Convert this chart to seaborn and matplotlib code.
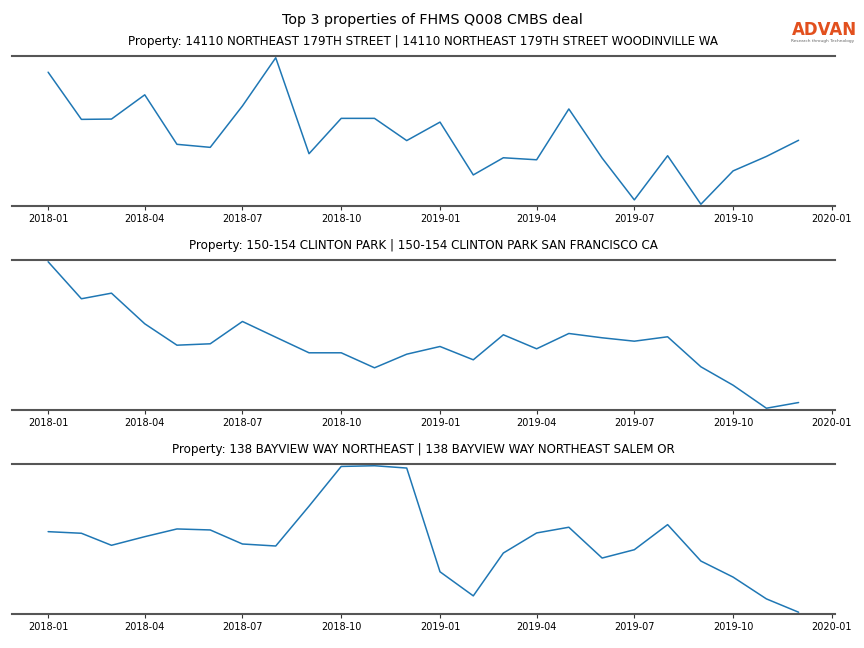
import matplotlib
matplotlib.use("Agg")
import matplotlib.pyplot as plt
import matplotlib.dates as mdates
import pandas as pd
import seaborn as sns

# Monthly values (relative units)
months = pd.date_range("2018-01-01", periods=24, freq="MS")

titles = [
    "Property: 14110 NORTHEAST 179TH STREET | 14110 NORTHEAST 179TH STREET WOODINVILLE WA",
    "Property: 150-154 CLINTON PARK | 150-154 CLINTON PARK SAN FRANCISCO CA",
    "Property: 138 BAYVIEW WAY NORTHEAST | 138 BAYVIEW WAY NORTHEAST SALEM OR",
]

woodinville = [132.7, 86.0, 86.3, 110.3, 61.3, 58.3, 99.3, 147.0, 52.0, 87.0, 87.0, 65.0,
               83.3, 31.0, 48.0, 46.0, 96.3, 47.7, 6.3, 50.0, 2.0, 35.0, 49.3, 65.3]
clinton = [147.7, 110.7, 116.3, 85.7, 64.3, 65.7, 88.0, 72.3, 56.7, 56.7, 41.7, 55.3,
           63.0, 49.7, 74.7, 60.7, 76.0, 71.7, 68.3, 72.7, 42.7, 24.3, 1.3, 7.0]
salem = [81.3, 79.7, 67.7, 76.3, 84.0, 83.0, 69.0, 67.0, 106.7, 146.3, 147.0, 144.7,
         41.3, 17.3, 60.0, 80.0, 85.7, 55.0, 63.3, 88.3, 52.0, 36.0, 14.3, 1.0]

series = [woodinville, clinton, salem]

sns.set_style("white")
plt.rcParams["font.family"] = ["DejaVu Sans"]
plt.rcParams["text.color"] = "black"
plt.rcParams["xtick.color"] = "black"

fig, axes = plt.subplots(3, 1, figsize=(8.64, 6.48), dpi=100)
plt.subplots_adjust(left=0.014, right=0.966, top=0.9136, bottom=0.0525, hspace=0.36)

for ax, title, vals in zip(axes, titles, series):
    df = pd.DataFrame({"month": months, "value": vals})
    sns.lineplot(data=df, x="month", y="value", ax=ax, color="#1f77b4", linewidth=1.1)
    ax.set_title(title, fontsize=8.55, pad=8, color="black")
    ax.set_xlabel("")
    ax.set_ylabel("")
    ax.set_yticks([])
    ax.margins(x=0.048, y=0.012)
    ax.xaxis.set_major_locator(mdates.MonthLocator(bymonth=[1, 4, 7, 10]))
    ax.xaxis.set_major_formatter(mdates.DateFormatter("%Y-%m"))
    ax.tick_params(axis="x", labelsize=7.0, length=3, width=0.8, color="#333333", pad=3,
                   bottom=True, labelcolor="black")
    for side in ["left", "right"]:
        ax.spines[side].set_visible(False)
    for side in ["top", "bottom"]:
        ax.spines[side].set_color("#555555")
        ax.spines[side].set_linewidth(1.5)

fig.suptitle("Top 3 properties of FHMS Q008 CMBS deal", fontsize=10.3, y=0.98, color="black")

# logo
fig.text(0.9165, 0.946, "ADVAN", fontsize=12, color="#e2501e", fontweight="semibold")
fig.text(0.9155, 0.935, "Research through Technology", fontsize=3.1, color="#666666")

fig.savefig("out.png", dpi=100)
